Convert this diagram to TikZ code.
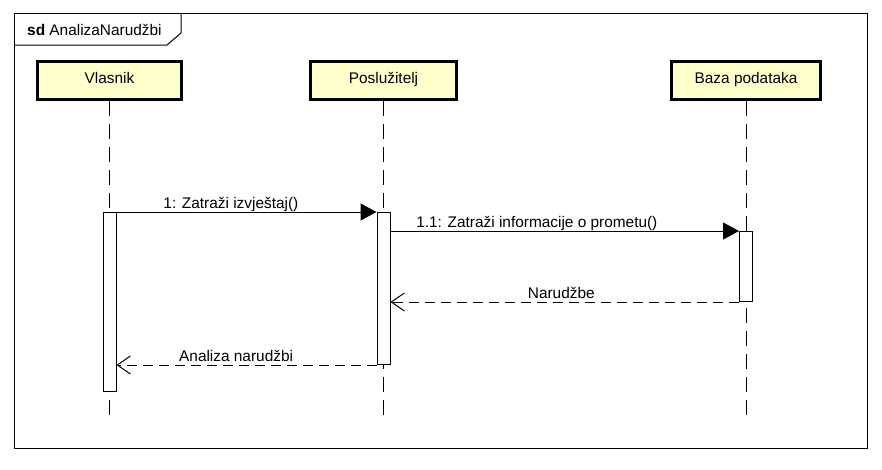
\documentclass[tikz,border=0pt]{standalone}
\usepackage{fontspec}
\setmainfont{Liberation Sans}
\usepackage{tikz}
\usetikzlibrary{arrows.meta, positioning, calc}
\definecolor{headBg}{RGB}{255, 255, 204}
\newcommand{\umlfont}{\fontsize{15.4}{18}\selectfont}
\tikzstyle{line} = [line width=1pt]
\tikzstyle{call} = [line, -{Triangle[length=16pt, width=17pt]}]
\tikzstyle{reply} = [line, dash pattern=on 10pt off 6pt, -{Straight Barb[length=13pt, width=18pt]}]
\tikzstyle{lifeline} = [line, dash pattern=on 15pt off 8pt]
\tikzstyle{head} = [rectangle, draw=black, line width=3pt, fill=headBg, minimum width=144pt, minimum height=38pt, text height=11pt, text depth=5pt, text=black, font=\umlfont]
\tikzstyle{act} = [rectangle, draw=black, line width=1pt, fill=white, minimum width=13pt, anchor=north]
\tikzstyle{msg} = [anchor=base, yshift=3.5pt, font=\umlfont, inner sep=0pt]
\begin{document}
\begin{tikzpicture}[x=1pt, y=-1pt]

\useasboundingbox (0,0) rectangle (882,469);
\fill [white] (0,0) rectangle (882,469);

% frame
\draw [line] (14,13) rectangle (867,448);
\draw [line] (14,45) -- (167,45) -- (181,33) -- (181,13);
\node (sd) [anchor=base west, inner sep=0pt, font=\umlfont] at (27,35) {\textbf{sd} AnalizaNarudžbi};

% heads
\node (vlasnik) [head] at (109.5,80.5) {Vlasnik};
\node (posluzitelj) [head, minimum width=146pt, xshift=274pt] at (vlasnik) {Poslužitelj};
\node (baza) [head, minimum width=149pt, xshift=362.5pt] at (posluzitelj) {Baza podataka};

% lifelines
\coordinate (vlasnik_end) at ($(vlasnik.south)+(0,316)$);
\coordinate (posluzitelj_end) at ($(posluzitelj.south)+(0,316)$);
\coordinate (baza_end) at ($(baza.south)+(0,316)$);
\draw [lifeline] (vlasnik.south) -- (vlasnik_end);
\draw [lifeline] (posluzitelj.south) -- (posluzitelj_end);
\draw [lifeline] (baza.south) -- (baza_end);

% activations
\node (act_v) [act, minimum height=179pt] at ($(vlasnik.south)+(0,111)$) {};
\node (act_p) [act, minimum height=152pt] at ($(posluzitelj.south)+(0,111)$) {};
\node (act_b) [act, minimum height=70pt] at ($(baza.south)+(0,130)$) {};

% messages
\draw [call] (act_v.north east) -- (act_p.north west) node [msg, pos=0.44] {1: Zatraži izvještaj()};
\draw [call] (act_b.north west -| act_p.east) -- (act_b.north west) node [msg, pos=0.42] {1.1: Zatraži informacije o prometu()};
\draw [reply] (act_b.south west) -- (act_b.south west -| act_p.east) node [msg, pos=0.51] {Narudžbe};
\draw [reply] (act_p.south west) -- (act_p.south west -| act_v.east) node [msg, pos=0.54] {Analiza narudžbi};

\end{tikzpicture}
\end{document}
